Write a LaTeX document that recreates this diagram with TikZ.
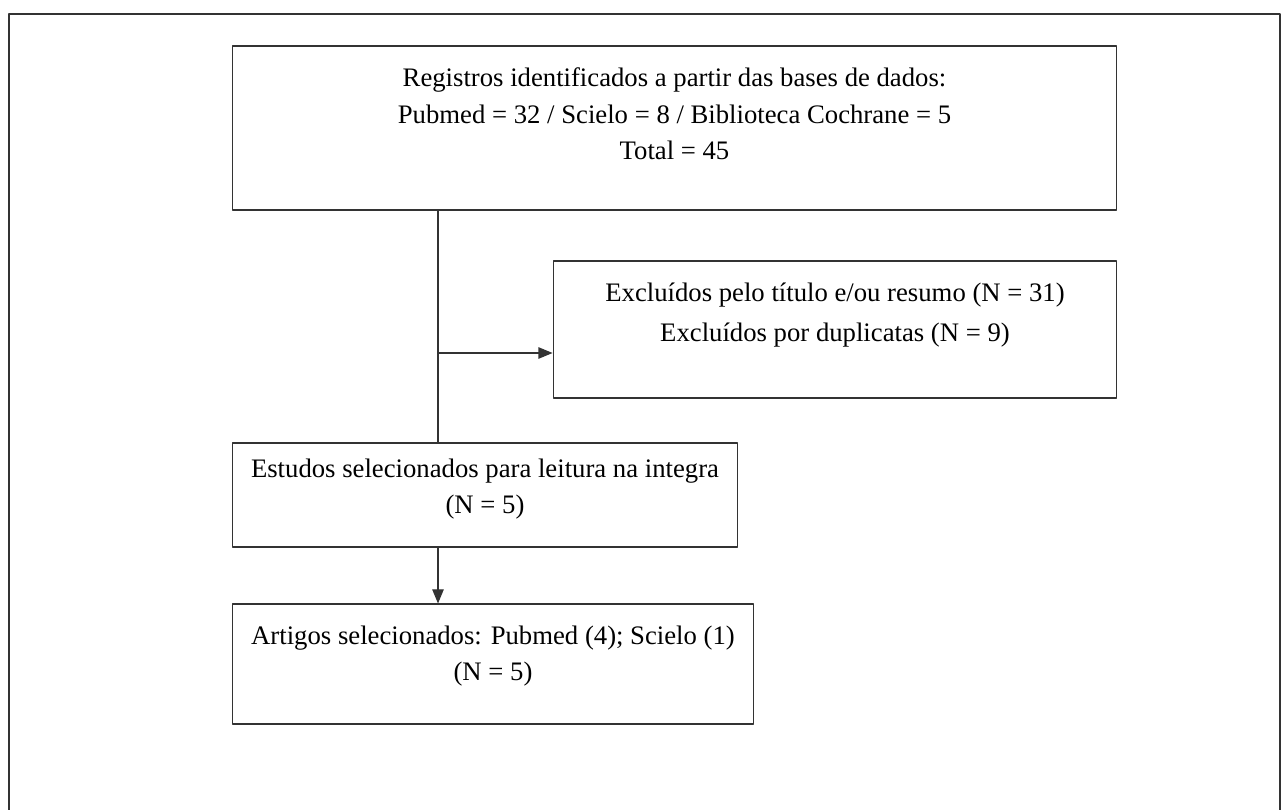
\documentclass[tikz,border=0pt]{standalone}
\usepackage{fontspec}
\setmainfont{Liberation Serif}
\usepackage{pgf,tikz}
\usetikzlibrary{arrows.meta}
\tikzset{
  flowbox/.style={draw=black!80,line width=0.6pt,align=center,inner sep=0pt,
    font=\fontsize{15.2}{20.5}\selectfont},
  flowline/.style={draw=black!80,line width=0.6pt}
}
\begin{document}
\begin{tikzpicture}[line cap=round,line join=round,>={Triangle[length=8pt,width=6.5pt]},x=0.02cm,y=-0.02cm]
    \useasboundingbox (0,0) rectangle (1284,810);
    \draw [flowline] (9,810) -- (9,14) -- (1280,14) -- (1280,810);
    \node [flowbox,minimum width=17.7cm,minimum height=3.28cm,text depth=16.1pt,font=\fontsize{15.2}{20.7}\selectfont] (records) at (674.5,128) {Registros identificados a partir das bases de dados:\\Pubmed = 32 / Scielo = 8 / Biblioteca Cochrane = 5\\Total = 45};
    \node [flowbox,minimum width=11.28cm,minimum height=2.74cm,text depth=19.2pt,font=\fontsize{15.2}{22.8}\selectfont] (excluded) at (835,329.5) {Excluídos pelo título e/ou resumo (N = 31)\\Excluídos por duplicatas (N = 9)};
    \node [flowbox,minimum width=10.12cm,minimum height=2.08cm,text depth=9.6pt] (fulltext) at (485,495) {Estudos selecionados para leitura na integra\\(N = 5)};
    \node [flowbox,minimum width=10.44cm,minimum height=2.4cm,text depth=11.8pt] (selected) at (493,664) {Artigos selecionados: Pubmed (4); Scielo (1)\\(N = 5)};
    \coordinate (split) at (438,353);
    \draw [flowline] (records.south -| split) -- (fulltext.north -| split);
    \draw [flowline,->] (split) -- (split -| excluded.west);
    \draw [flowline,->] (fulltext.south -| split) -- (selected.north -| split);
\end{tikzpicture}
\end{document}
